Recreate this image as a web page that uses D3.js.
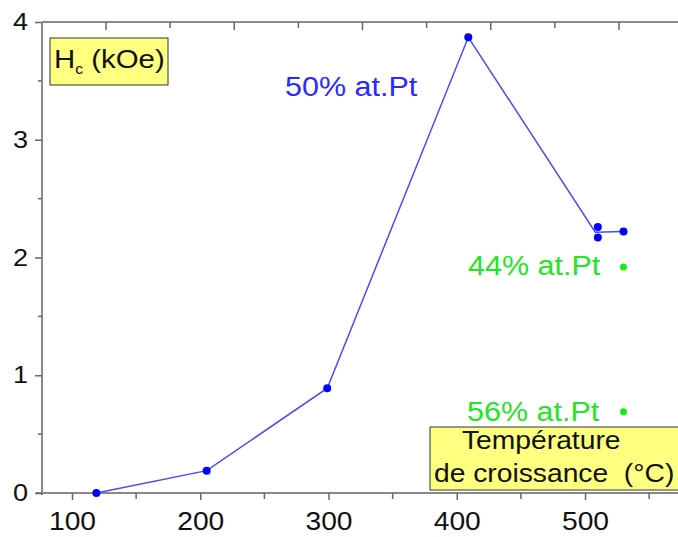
<!DOCTYPE html>
<html>
<head>
<meta charset="utf-8">
<script src="https://cdn.jsdelivr.net/npm/d3@7"></script>
<style>
  body { margin: 0; background: #fff; }
  svg text { font-family: "Liberation Sans", Arial, sans-serif; }
</style>
</head>
<body>
<div id="chart"></div>
<script>
var width = 678, height = 537;

// data
var pt50 = [
  { t: 119, hc: 0.0 },
  { t: 205, hc: 0.19 },
  { t: 299, hc: 0.89 },
  { t: 409, hc: 3.87 },
  { t: 510, hc: 2.26 },
  { t: 510, hc: 2.17 },
  { t: 530, hc: 2.22 }
];
var line50 = [
  { t: 119, hc: 0.0 },
  { t: 205, hc: 0.19 },
  { t: 299, hc: 0.89 },
  { t: 409, hc: 3.87 },
  { t: 508, hc: 2.215 },
  { t: 530, hc: 2.22 }
];
var pt44 = [{ t: 530, hc: 1.92 }];
var pt56 = [{ t: 530, hc: 0.69 }];

var xTicks = [100, 200, 300, 400, 500];
var xMinor = [150, 250, 350, 450, 550];
var yTicks = [0, 1, 2, 3, 4];
var yMinor = [0.5, 1.5, 2.5, 3.5];
var topTicks = [126.5, 176.5, 226.5, 276.5, 326.5, 376.5, 426.5, 476.5, 526.5];

var axisColor = "#8a8a8a";
var stretch = "scale(1.13,1)";

var svg = d3.select("#chart").append("svg")
    .attr("width", width)
    .attr("height", height);

var x = d3.scaleLinear().domain([76.6, 572.5]).range([42, 678]);
var y = d3.scaleLinear().domain([0, 4]).range([493, 22]);

// frame lines
svg.append("line")
    .attr("x1", x(76.6)).attr("x2", x(76.6))
    .attr("y1", y(4)).attr("y2", y(0) + 2)
    .attr("stroke", axisColor).attr("stroke-width", 2);
svg.append("line")
    .attr("x1", x(76.6)).attr("x2", width)
    .attr("y1", y(4)).attr("y2", y(4))
    .attr("stroke", axisColor).attr("stroke-width", 2);

// top ticks (inside)
svg.selectAll(".ttick").data(topTicks).enter().append("line")
    .attr("x1", d => x(d)).attr("x2", d => x(d))
    .attr("y1", y(4))
    .attr("y2", (d, i) => y(4) + (i % 2 == 0 ? 8 : 6))
    .attr("stroke", "#666").attr("stroke-width", 1.5);

// bottom axis
var gx = svg.append("g").attr("transform", "translate(0," + y(0) + ")");
gx.append("line")
    .attr("x1", x(76.6) - 6).attr("x2", width)
    .attr("stroke", axisColor).attr("stroke-width", 2);
gx.call(d3.axisBottom(x).tickValues(xTicks).tickSize(7).tickFormat(d3.format("d")));
gx.select(".domain").remove();
gx.selectAll(".tick line").attr("stroke", "#666").attr("stroke-width", 1.5);
gx.selectAll(".tick text")
    .attr("y", 37).attr("dy", null)
    .attr("fill", "#111")
    .attr("font-size", 25)
    .attr("transform", stretch);
gx.selectAll(".minor").data(xMinor).enter().append("line")
    .attr("x1", d => x(d)).attr("x2", d => x(d))
    .attr("y1", 0).attr("y2", 6)
    .attr("stroke", "#666").attr("stroke-width", 1.5);

// left axis
var gy = svg.append("g").attr("transform", "translate(" + x(76.6) + ",0)");
gy.call(d3.axisLeft(y).tickValues(yTicks).tickSize(7).tickFormat(d3.format("d")));
gy.select(".domain").remove();
gy.selectAll(".tick line").attr("stroke", "#666").attr("stroke-width", 1.5);
gy.selectAll(".tick text")
    .attr("x", -14)
    .attr("fill", "#111")
    .attr("font-size", 24)
    .attr("transform", "translate(-14,0) " + stretch + " translate(14,0)");
gy.selectAll(".minor").data(yMinor).enter().append("line")
    .attr("x1", -4).attr("x2", 0)
    .attr("y1", d => y(d)).attr("y2", d => y(d))
    .attr("stroke", "#666").attr("stroke-width", 1.5);

// 50% series
var line = d3.line().x(d => x(d.t)).y(d => y(d.hc));
svg.append("path")
    .datum(line50)
    .attr("d", line)
    .attr("fill", "none")
    .attr("stroke", "#4a4aff")
    .attr("stroke-width", 1.5);

svg.selectAll(".p50").data(pt50).enter().append("circle")
    .attr("cx", d => x(d.t)).attr("cy", d => y(d.hc))
    .attr("r", 4).attr("fill", "#0000ff");

svg.selectAll(".p44").data(pt44.concat(pt56)).enter().append("circle")
    .attr("cx", d => x(d.t)).attr("cy", d => y(d.hc))
    .attr("r", 3.5).attr("fill", "#11ee11");

// labels
function label(tx, ty, str, color, size) {
  svg.append("text")
      .attr("transform", "translate(" + tx + "," + ty + ") " + stretch)
      .attr("fill", color)
      .attr("font-size", size)
      .text(str);
}
label(285, 96, "50% at.Pt", "#2a2aff", 27);
label(468, 275, "44% at.Pt", "#22e622", 27);
label(467, 421, "56% at.Pt", "#22e622", 27);

// Hc box
svg.append("rect")
    .attr("x", 50).attr("y", 38).attr("width", 118).attr("height", 47)
    .attr("fill", "#ffff80").attr("stroke", "#333").attr("stroke-width", 1);
var hc = svg.append("text")
    .attr("transform", "translate(54,68) " + stretch)
    .attr("fill", "#111")
    .attr("font-size", 26);
hc.append("tspan").text("H");
hc.append("tspan").attr("font-size", 14).attr("dy", 6).text("c");
hc.append("tspan").attr("dy", -6).text(" (kOe)");

// temperature box
svg.append("rect")
    .attr("x", 430).attr("y", 427).attr("width", 260).attr("height", 63)
    .attr("fill", "#ffff80").attr("stroke", "#333").attr("stroke-width", 1);
svg.append("text")
    .attr("transform", "translate(462,449) " + stretch)
    .attr("fill", "#111").attr("font-size", 25)
    .text("Température");
svg.append("text")
    .attr("transform", "translate(434,482) " + stretch)
    .attr("fill", "#111").attr("font-size", 25)
    .style("white-space", "pre")
    .text("de croissance  (°C)");
</script>
</body>
</html>
